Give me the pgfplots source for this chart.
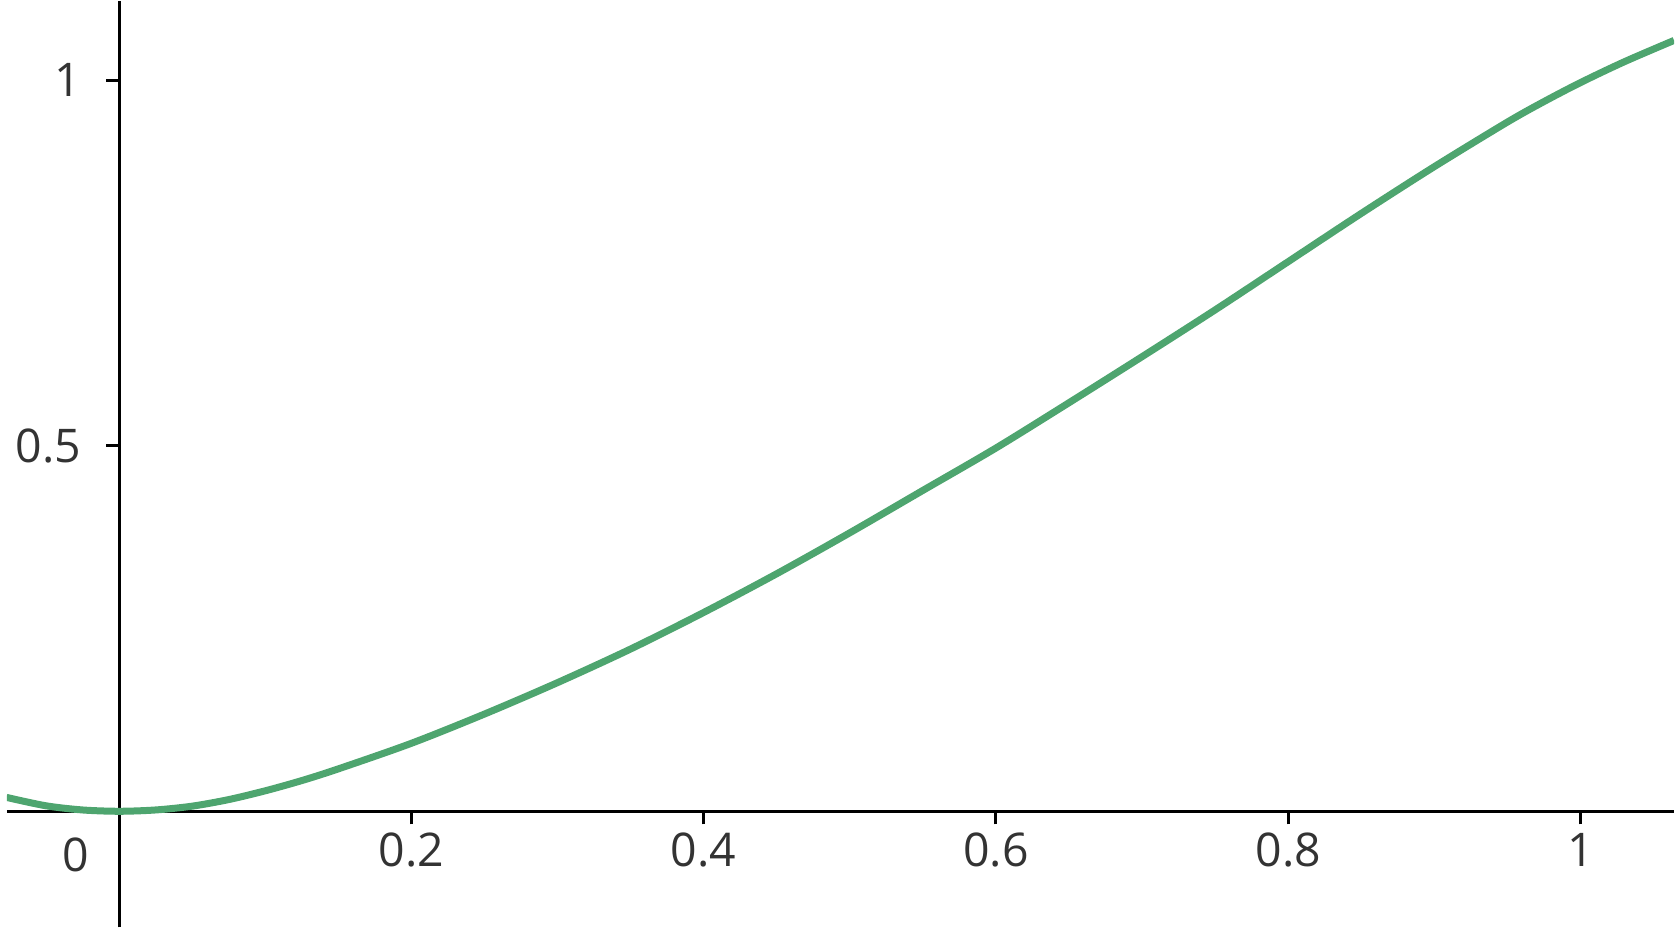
\documentclass[border=0pt]{standalone}
\usepackage{pgfplots}
\pgfplotsset{compat=1.18}
\usepackage{fontspec}
\setmainfont{Open Sans}
\definecolor{curvegreen}{RGB}{78,165,111}
\definecolor{labelgray}{RGB}{51,51,51}
\begin{document}
\begin{tikzpicture}
\begin{axis}[
  scale only axis,
  width=416.75pt, height=231.5pt,
  axis lines=middle,
  axis line style={-, line width=0.75pt, black},
  xmin=-0.0767, xmax=1.064,
  ymin=-0.159, ymax=1.108,
  xtick={0.2,0.4,0.6,0.8,1},
  xticklabels={0.2,0.4,0.6,0.8,1},
  ytick={0.5,1},
  yticklabels={0.5,1},
  tick align=outside,
  major tick length=3.25pt,
  tick style={line width=0.75pt, black},
  every tick label/.append style={font=\fontsize{11.6}{14}\selectfont, text=labelgray},
  xticklabel style={anchor=north, inner sep=0pt, yshift=-2pt},
  yticklabel style={anchor=east, inner sep=0pt, xshift=-6pt},
  /pgf/number format/assume math mode=true,
  clip=true,
]
\addplot[curvegreen, line width=1.75pt, smooth, tension=0.5] coordinates {
(-0.077,0.019) (-0.05,0.0075) (-0.025,0.0018) (0,0) (0.025,0.0018) (0.05,0.007)
(0.075,0.016) (0.1,0.028) (0.125,0.042)
(0.15,0.058) (0.2,0.093) (0.25,0.133) (0.3,0.176) (0.35,0.222) (0.4,0.272)
(0.45,0.325) (0.5,0.381) (0.55,0.439) (0.6,0.497) (0.65,0.559) (0.7,0.622)
(0.75,0.686) (0.8,0.752) (0.85,0.818) (0.9,0.882) (0.95,0.943) (0.975,0.971) (1.0,0.997)
(1.03,1.0255) (1.064,1.0547)
};
\node[anchor=north east, inner sep=0pt, xshift=-7.25pt, yshift=-6.5pt,
  font=\fontsize{11.6}{14}\selectfont, text=labelgray] at (axis cs:0,0) {0};
\end{axis}
\path (current axis.south west) ++(-1.75pt,-1.25pt);
\path (current axis.north east) ++(1.5pt,0.25pt);
\end{tikzpicture}
\end{document}
